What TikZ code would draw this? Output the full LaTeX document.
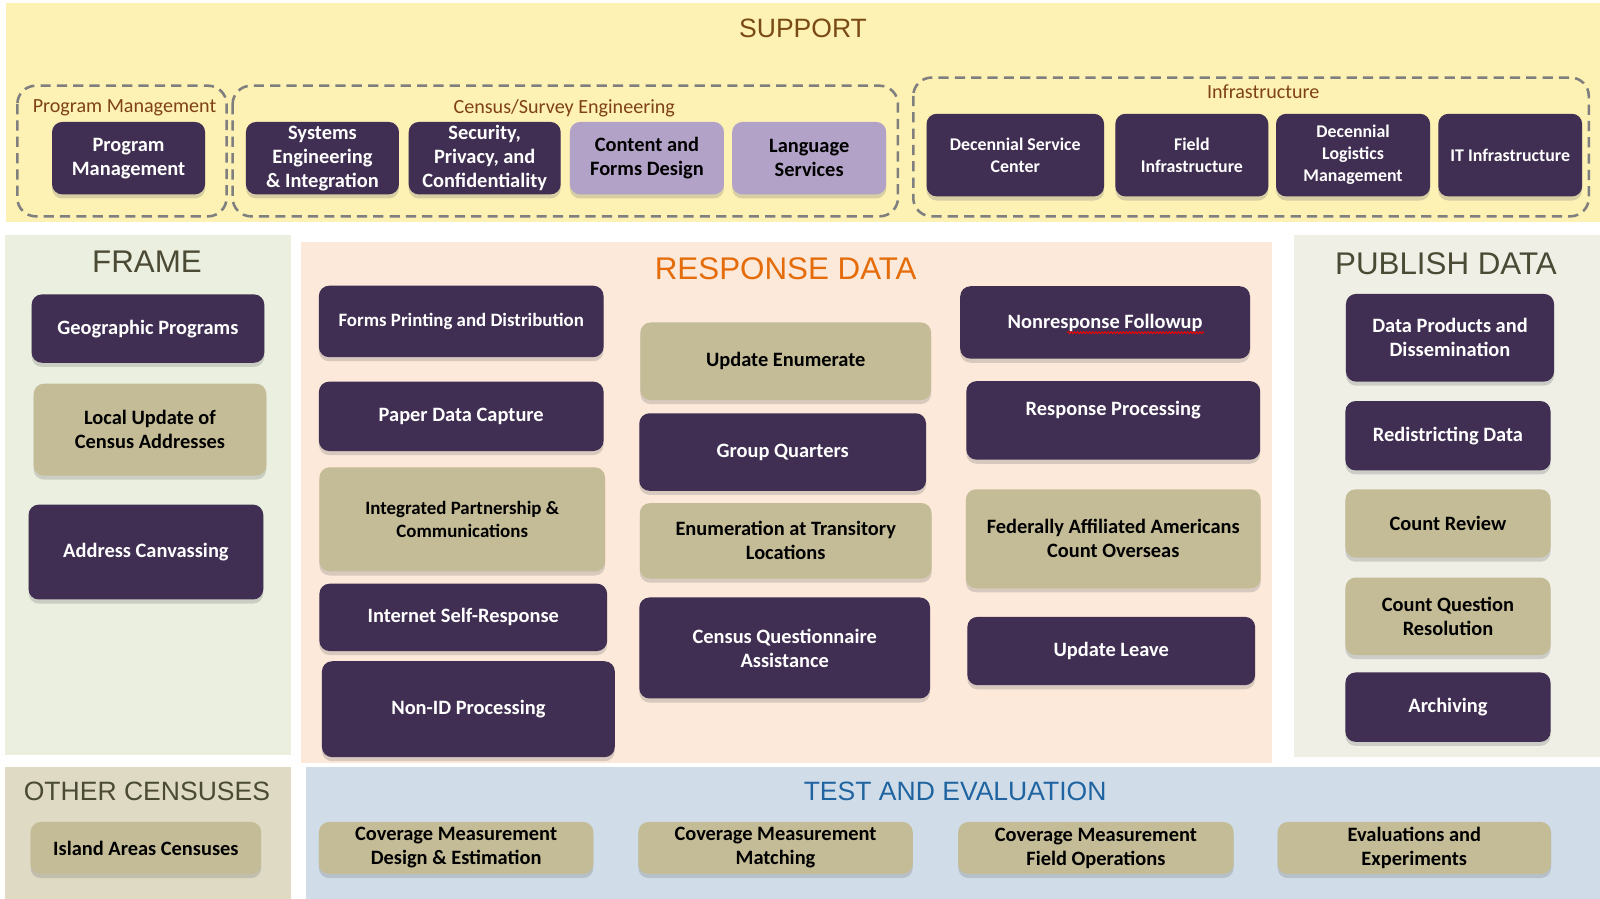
\documentclass[tikz,border=0pt]{standalone}
\usepackage{fontspec}
\setmainfont{Carlito}
\newfontfamily\headfont{Liberation Sans}
\usetikzlibrary{shadows,decorations.pathmorphing}

\definecolor{plum}{HTML}{402F52}
\definecolor{tan}{HTML}{C4BC96}
\definecolor{lav}{HTML}{B2A2C7}
\definecolor{supbg}{HTML}{FDF1B3}
\definecolor{framebg}{HTML}{EBEFDF}
\definecolor{respbg}{HTML}{FDE9D9}
\definecolor{pubbg}{HTML}{EFEFE6}
\definecolor{othbg}{HTML}{DEDAC3}
\definecolor{testbg}{HTML}{D0DDE9}
\definecolor{suptitle}{HTML}{7A4A14}
\definecolor{grpbrown}{HTML}{7F4218}
\definecolor{olive}{HTML}{4A4A35}
\definecolor{respor}{HTML}{E46C0A}
\definecolor{testblue}{HTML}{1F64A0}
\definecolor{dashgray}{HTML}{7F7F7F}

\tikzset{
  box/.style={rounded corners=10pt, align=center, inner sep=2pt,
    font=\bfseries\fontsize{20}{23.5}\selectfont,
    drop shadow={shadow xshift=0pt, shadow yshift=-4pt, opacity=0.3}},
  dbox/.style={box, fill=plum, text=white},
  tbox/.style={box, fill=tan, text=black},
  lbox/.style={box, fill=lav, text=black},
  small/.style={font=\bfseries\fontsize{17.5}{21.5}\selectfont},
  mid/.style={font=\bfseries\fontsize{18.5}{23}\selectfont},
  head/.style={font=\headfont\fontsize{30.7}{36}\selectfont, text=olive},
  grp/.style={draw=dashgray, line width=2.5pt, dash pattern=on 10pt off 6pt, rounded corners=18pt},
  grplab/.style={text=grpbrown, font=\fontsize{19.7}{22}\selectfont}
}

\begin{document}
\begin{tikzpicture}[x=1pt, y=-1pt]
  \useasboundingbox (0,0) rectangle (1568,881);
  \fill [white] (0,0) rectangle (1568,881);

  % panels
  \fill [supbg] (6,3) rectangle (1568,218);
  \fill [framebg] (5,230) rectangle (285,740);
  \fill [respbg] (295,237) rectangle (1247,748);
  \fill [pubbg] (1268,230) rectangle (1568,742);
  \fill [othbg] (5,752) rectangle (285,881);
  \fill [testbg] (300,752) rectangle (1568,881);

  % support
  \node [font=\headfont\fontsize{26}{30}\selectfont, text=suptitle] (support) at (787,28) {SUPPORT};
  \draw [grp] (17,84) rectangle (222,212);
  \draw [grp] (228,84) rectangle (880,212);
  \draw [grp] (895,76) rectangle (1557,212);
  \node [grplab] (pmlab) at (122,106) {Program Management};
  \node [grplab] (cselab) at (553,106) {Census/Survey Engineering};
  \node [grplab] (infralab) at (1238,90) {Infrastructure};

  \node [dbox, minimum width=150pt, minimum height=71pt] (pm) at (126,155) {Program\\Management};
  \node [dbox, minimum width=150pt, minimum height=71pt] (sei) at (316,155) {Systems\\Engineering\\\& Integration};
  \node [dbox, minimum width=149pt, minimum height=71pt] (spc) at (475,155) {Security,\\Privacy, and\\Confidentiality};
  \node [lbox, minimum width=151pt, minimum height=71pt] (cfd) at (634,155) {Content and\\Forms Design};
  \node [lbox, minimum width=151pt, minimum height=71pt] (ls) at (793,155) {Language\\Services};

  \node [dbox, small, minimum width=174pt, minimum height=81pt] (dsc) at (995,152) {Decennial Service\\Center};
  \node [dbox, small, minimum width=150pt, minimum height=81pt] (fi) at (1168,152) {Field\\Infrastructure};
  \node [dbox, small, minimum width=151pt, minimum height=81pt] (dlm) at (1326,152) {Decennial\\Logistics\\Management};
  \node [dbox, small, minimum width=141pt, minimum height=81pt] (iti) at (1480,152) {IT Infrastructure};

  % frame
  \node [head] (frame) at (144,256) {FRAME};
  \node [dbox, minimum width=228pt, minimum height=67pt] (gp) at (145,322) {Geographic Programs};
  \node [tbox, minimum width=228pt, minimum height=90pt] (luca) at (147,421) {Local Update of\\Census Addresses};
  \node [dbox, minimum width=230pt, minimum height=93pt] (ac) at (143,541) {Address Canvassing};

  % response data
  \node [head, text=respor] (resp) at (770,263) {RESPONSE DATA};
  \node [dbox, mid, minimum width=279pt, minimum height=70pt] (fpd) at (452,315) {Forms Printing and Distribution};
  \node [dbox, minimum width=279pt, minimum height=68pt] (pdc) at (452,408) {Paper Data Capture};
  \node [tbox, mid, minimum width=280pt, minimum height=102pt] (ipc) at (453,509) {Integrated Partnership \&\\Communications};
  \node [dbox, minimum width=282pt, minimum height=66pt] (isr) at (454,605) {Internet Self-Response};
  \node [dbox, minimum width=287pt, minimum height=94pt] (nid) at (459,695) {Non-ID Processing};

  \node [tbox, minimum width=285pt, minimum height=76pt] (ue) at (770,354) {Update Enumerate};
  \node [dbox, minimum width=281pt, minimum height=76pt] (gq) at (767,443) {Group Quarters};
  \node [tbox, minimum width=286pt, minimum height=74pt] (etl) at (770,530) {Enumeration at Transitory\\Locations};
  \node [dbox, minimum width=285pt, minimum height=99pt] (cqa) at (769,635) {Census Questionnaire\\Assistance};

  \node [dbox, minimum width=284pt, minimum height=71pt] (nrfu) at (1083,316) {Nonresponse Followup};
  \draw [red, line width=0.8pt, decorate, decoration={snake, amplitude=1pt, segment length=3pt}] (1046,326) -- (1180,326);
  \node [dbox, minimum width=288pt, minimum height=77pt] (rp) at (1091,412) {Response Processing\\\mbox{}};
  \node [tbox, minimum width=289pt, minimum height=97pt] (faa) at (1091,528) {Federally Affiliated Americans\\Count Overseas};
  \node [dbox, minimum width=282pt, minimum height=67pt] (ul) at (1089,638) {Update Leave};

  % publish data
  \node [head] (pub) at (1417,258) {PUBLISH DATA};
  \node [dbox, minimum width=204pt, minimum height=86pt] (dpd) at (1421,331) {Data Products and\\Dissemination};
  \node [dbox, minimum width=201pt, minimum height=68pt] (rd) at (1419,427) {Redistricting Data};
  \node [tbox, minimum width=201pt, minimum height=67pt] (cr) at (1419,513) {Count Review};
  \node [tbox, minimum width=201pt, minimum height=76pt] (cqr) at (1419,604) {Count Question\\Resolution};
  \node [dbox, minimum width=201pt, minimum height=68pt] (arc) at (1419,693) {Archiving};

  % other censuses
  \node [head, font=\headfont\fontsize{26}{30}\selectfont] (oth) at (144,776) {OTHER CENSUSES};
  \node [tbox, minimum width=226pt, minimum height=51pt] (iac) at (143,831) {Island Areas Censuses};

  % test and evaluation
  \node [head, text=testblue, font=\headfont\fontsize{26}{30}\selectfont] (test) at (936,776) {TEST AND EVALUATION};
  \node [tbox, minimum width=269pt, minimum height=51pt] (cmde) at (447,831) {Coverage Measurement\\Design \& Estimation};
  \node [tbox, minimum width=269pt, minimum height=51pt] (cmm) at (760,831) {Coverage Measurement\\Matching};
  \node [tbox, minimum width=270pt, minimum height=51pt] (cmfo) at (1074,831) {Coverage Measurement\\Field Operations};
  \node [tbox, minimum width=268pt, minimum height=51pt] (ee) at (1386,831) {Evaluations and\\Experiments};
\end{tikzpicture}
\end{document}
